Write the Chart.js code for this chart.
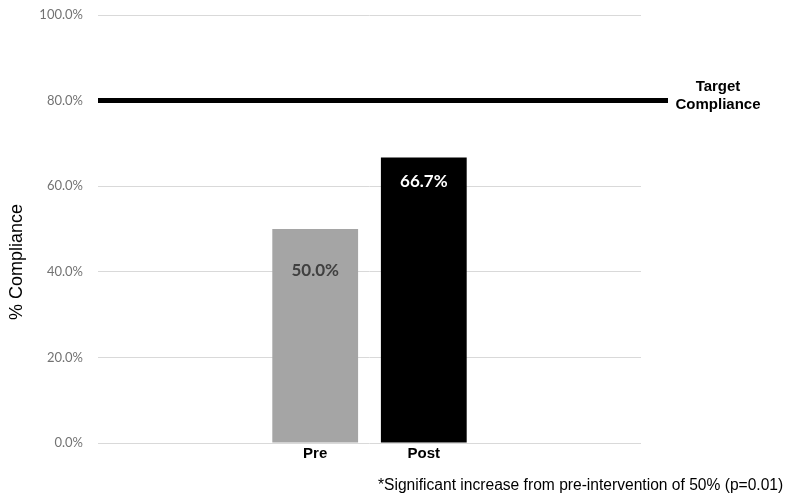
<!DOCTYPE html>
<html lang="en">
<head>
  <meta charset="UTF-8" />
  <title>% Compliance Pre vs Post</title>
  <style>
    html, body { margin: 0; padding: 0; background: #fff; }
    #wrap { width: 790px; height: 500px; }
  </style>
  <script src="https://cdn.jsdelivr.net/npm/chart.js@4"></script>
</head>
<body>
  <div id="wrap"><canvas id="chart" width="790" height="500"></canvas></div>
  <script>
    const categories = ['Pre', 'Post'];
    const compliance = [50.0, 66.7];
    const barColors = ['#a5a5a5', '#000000'];
    const labelColors = ['#404040', '#ffffff'];
    const targetValue = 80;
    const yTicks = [0, 20, 40, 60, 80, 100];
    const footnote = '*Significant increase from pre-intervention of 50% (p=0.01)';

    // two empty slots each side so the bars sit in the middle like the original
    const labels = ['', '', ...categories, '', ''];
    const values = [null, null, ...compliance, null, null];
    const colors = ['#fff', '#fff', ...barColors, '#fff', '#fff'];
    const valueColors = ['#fff', '#fff', ...labelColors, '#fff', '#fff'];

    const extras = {
      id: 'extras',
      afterDatasetsDraw(chart) {
        const ctx = chart.ctx;
        const area = chart.chartArea;
        const y = chart.scales.y;
        const meta = chart.getDatasetMeta(0);

        // value labels inside the bars
        ctx.save();
        ctx.font = 'bold 17px Lato, sans-serif';
        ctx.textAlign = 'center';
        ctx.textBaseline = 'middle';
        const offsets = [42, 24];
        meta.data.forEach((bar, i) => {
          const v = values[i];
          if (v == null) return;
          ctx.fillStyle = valueColors[i];
          ctx.fillText(v.toFixed(1) + '%', bar.x, bar.y + offsets[i - 2]);
        });

        // target line
        const ty = y.getPixelForValue(targetValue);
        ctx.strokeStyle = '#000';
        ctx.lineWidth = 5;
        ctx.beginPath();
        ctx.moveTo(area.left, ty);
        ctx.lineTo(area.right + 27, ty);
        ctx.stroke();

        ctx.fillStyle = '#000';
        ctx.font = 'bold 15px "Liberation Sans", Arial, sans-serif';
        ctx.fillText('Target', 718, ty - 14);
        ctx.fillText('Compliance', 718, ty + 4);

        // y axis title
        ctx.save();
        ctx.translate(17, 262);
        ctx.rotate(-Math.PI / 2);
        ctx.font = '18px "Liberation Sans", Arial, sans-serif';
        ctx.fillText('% Compliance', 0, 0);
        ctx.restore();

        // footnote
        ctx.font = '15.6px "Liberation Sans", Arial, sans-serif';
        ctx.textAlign = 'left';
        ctx.fillStyle = '#000';
        ctx.fillText(footnote, 378, 486);
        ctx.restore();
      }
    };

    new Chart(document.getElementById('chart'), {
      type: 'bar',
      data: {
        labels: labels,
        datasets: [{
          data: values,
          backgroundColor: colors,
          categoryPercentage: 1,
          barPercentage: 0.79
        }]
      },
      options: {
        responsive: false,
        animation: false,
        layout: { padding: { top: 15, right: 149, bottom: 0, left: 0 } },
        plugins: {
          legend: { display: false },
          tooltip: { enabled: false }
        },
        scales: {
          x: {
            offset: false,
            grid: { display: false, drawTicks: false },
            border: { display: false },
            ticks: {
              color: '#000',
              font: { family: '"Liberation Sans", Arial, sans-serif', size: 15, weight: 'bold' },
              padding: 2,
              maxRotation: 0,
              autoSkip: false
            },
            afterFit(scale) { scale.height = 57; }
          },
          y: {
            min: 0,
            max: 100,
            afterBuildTicks(scale) { scale.ticks = yTicks.map(v => ({ value: v })); },
            grid: { color: '#d9d9d9', lineWidth: 1, drawTicks: true, tickLength: 15, tickColor: 'rgba(0,0,0,0)' },
            border: { display: false },
            ticks: {
              color: '#737373',
              font: { family: 'Lato, sans-serif', size: 13 },
              padding: 0,
              callback: v => v.toFixed(1) + '%'
            },
            afterFit(scale) { scale.width = 98; }
          }
        }
      },
      plugins: [extras]
    });
  </script>
</body>
</html>
